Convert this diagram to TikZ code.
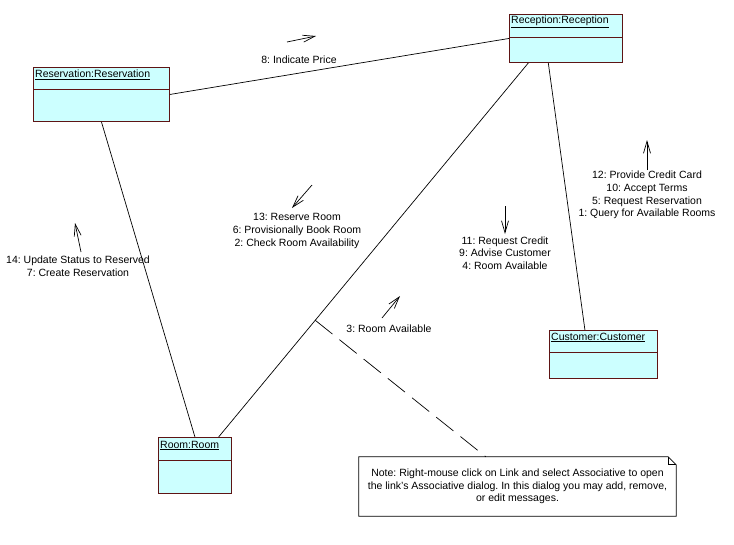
\documentclass[tikz,border=0pt]{standalone}
\usepackage{fontspec}
\setmainfont{Liberation Sans}
\usetikzlibrary{arrows.meta,calc}
\definecolor{objfill}{HTML}{CCFFFF}
\definecolor{objdraw}{HTML}{5E1414}
\frenchspacing
\begin{document}
\begin{tikzpicture}[x=1pt,y=-1pt,
  font=\fontsize{10.5}{12.6}\selectfont,
  obj/.style={draw=objdraw, fill=objfill, line width=0.9pt, anchor=north west, inner sep=0pt},
  divider/.style={draw=objdraw, line width=0.9pt},
  objtitle/.style={anchor=west, inner sep=0pt},
  link/.style={draw=black, line width=0.7pt},
  msg/.style={draw=black, line width=0.7pt, -{Straight Barb[length=12pt,width=7pt]}},
  msglabel/.style={align=center, inner sep=0pt},
  notelink/.style={draw=black, line width=0.7pt, dash pattern=on 22pt off 9pt}]
\useasboundingbox (0,0) rectangle (734,544);
\fill[white] (0,0) rectangle (734,544);

% objects
\node[obj, minimum width=136pt, minimum height=54pt] (res) at (33,67) {};
\draw[divider] ($(res.north west)+(0,22)$) -- ($(res.north east)+(0,22)$);
\node[objtitle] (restitle) at ($(res.north west)+(2,8)$) {\underline{Reservation:Reservation}};

\node[obj, minimum width=113pt, minimum height=48pt] (rec) at (509,14) {};
\draw[divider] ($(rec.north west)+(0,23)$) -- ($(rec.north east)+(0,23)$);
\node[objtitle] (rectitle) at ($(rec.north west)+(2,7.5)$) {\underline{Reception:Reception}};

\node[obj, minimum width=108pt, minimum height=48pt] (cus) at (549,330) {};
\draw[divider] ($(cus.north west)+(0,22)$) -- ($(cus.north east)+(0,22)$);
\node[objtitle] (custitle) at ($(cus.north west)+(2,7.5)$) {\underline{Customer:Customer}};

\node[obj, minimum width=73pt, minimum height=56pt] (room) at (158,437) {};
\draw[divider] ($(room.north west)+(0,23)$) -- ($(room.north east)+(0,23)$);
\node[objtitle] (roomtitle) at ($(room.north west)+(2,8.5)$) {\underline{Room:Room}};

% links
\draw[link] (res.east) -- (rec.west);
\draw[link] (res.south) -- (room.north);
\draw[link] ($(rec.south west)!0.17!(rec.south east)$) -- ($(room.north west)!0.82!(room.north east)$)
  coordinate[pos=0.688] (lk);
\draw[link] ($(rec.south west)!0.345!(rec.south east)$) -- ($(cus.north west)!0.33!(cus.north east)$);

% note
\node[minimum width=317pt, minimum height=59pt, inner sep=0pt] (note) at (517.5,486.5) {};
\draw[black, line width=0.7pt, fill=white] (note.north west) -- ($(note.north east)+(-8,0)$) -- ($(note.north east)+(0,8)$)
  -- (note.south east) -- (note.south west) -- cycle;
\draw[black, line width=0.7pt] ($(note.north east)+(-8,0)$) -- ($(note.north east)+(-8,8)$) -- ($(note.north east)+(0,8)$);
\node[inner sep=0pt, align=center] (notetext) at (note.center)
  {Note: Right-mouse click on Link and select Associative to open\\
   the link's Associative dialog. In this dialog you may add, remove,\\
   or edit messages.};
\draw[notelink] (lk) -- ($(note.north west)!0.4!(note.north east)$);

% messages
\coordinate (m8a) at (287,42); \coordinate (m8b) at (316,36);
\draw[msg] (m8a) -- (m8b);
\node[msglabel] (l8) at (299,60) {8: Indicate Price};

\coordinate (m12a) at (647,170); \coordinate (m12b) at (647,140);
\draw[msg] (m12a) -- (m12b);
\node[msglabel] (l12) at (647,195) {12: Provide Credit Card\\10: Accept Terms\\5: Request Reservation\\1: Query for Available Rooms};

\coordinate (m13a) at (312,185); \coordinate (m13b) at (292,208);
\draw[msg] (m13a) -- (m13b);
\node[msglabel] (l13) at (297,231) {13: Reserve Room\\6: Provisionally Book Room\\2: Check Room Availability};

\coordinate (m11a) at (505,206); \coordinate (m11b) at (505,234);
\draw[msg] (m11a) -- (m11b);
\node[msglabel] (l11) at (505,253) {11: Request Credit\\9: Advise Customer\\4: Room Available};

\coordinate (m3a) at (382,318); \coordinate (m3b) at (400,296);
\draw[msg] (m3a) -- (m3b);
\node[msglabel] (l3) at (389,329) {3: Room Available};

\coordinate (m14a) at (81,252); \coordinate (m14b) at (75,223);
\draw[msg] (m14a) -- (m14b);
\node[msglabel] (l14) at (78,266) {14: Update Status to Reserved\\7: Create Reservation};
\end{tikzpicture}
\end{document}
